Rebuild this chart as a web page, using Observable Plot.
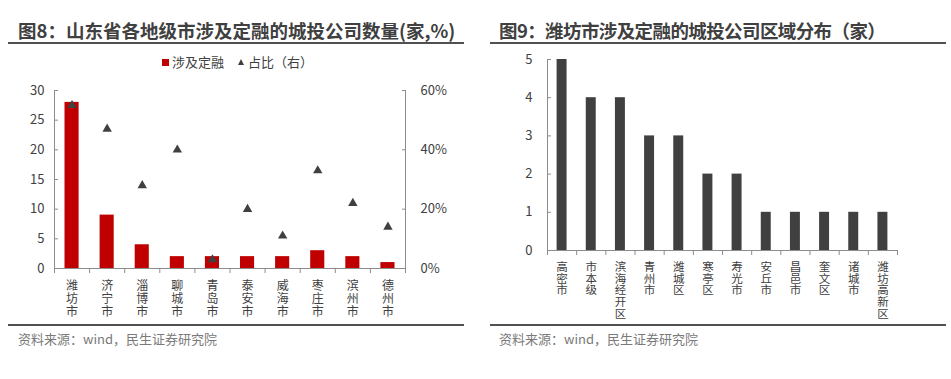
<!DOCTYPE html>
<html>
<head>
<meta charset="utf-8">
<script src="https://cdn.jsdelivr.net/npm/d3@7"></script>
<script src="https://cdn.jsdelivr.net/npm/@observablehq/plot@0.6"></script>
<style>
  html, body { margin: 0; padding: 0; background: #fff; }
  body { width: 951px; height: 379px; position: relative; overflow: hidden;
         font-family: "Noto Sans CJK SC", "Noto Sans", sans-serif; color: #404040; }
  .title { position: absolute; top: 21px; font-size: 18.5px; font-weight: bold; color: #404040; white-space: nowrap; line-height: 1; }
  .rule { position: absolute; height: 2px; background: #505050; }
  .source { position: absolute; top: 332px; font-size: 13px; color: #7a7a7a; white-space: nowrap; line-height: 1; }
  .legend { position: absolute; top: 55px; left: 162px; font-size: 13px; color: #404040; white-space: nowrap; line-height: 1; }
  .legend .sq { display: inline-block; width: 7px; height: 7px; background: #c00000; margin-right: 3px; vertical-align: 1px; }
  .legend .tri { display: inline-block; width: 0; height: 0; border-left: 3.5px solid transparent; border-right: 3.5px solid transparent; border-bottom: 6px solid #404040; margin: 0 4px 0 14px; vertical-align: 2px; }
  .chart { position: absolute; }
</style>
</head>
<body>
<div class="title" style="left:18px">图8：山东省各地级市涉及定融的城投公司数量(家,%)</div>
<div class="rule" style="left:8px; width:456px; top:42px"></div>
<div class="legend"><span class="sq"></span>涉及定融<span class="tri"></span>占比（右）</div>
<div class="chart" id="left" style="left:0; top:80px"></div>
<div class="rule" style="left:8px; width:456px; top:324px"></div>
<div class="source" style="left:18px">资料来源：wind，民生证券研究院</div>

<div class="title" style="left:499px; letter-spacing:-0.6px">图9：潍坊市涉及定融的城投公司区域分布（家）</div>
<div class="rule" style="left:490px; width:456px; top:42px"></div>
<div class="chart" id="right" style="left:480px; top:50px"></div>
<div class="rule" style="left:490px; width:456px; top:324px"></div>
<div class="source" style="left:499px">资料来源：wind，民生证券研究院</div>

<script>
// ---- Chart 8 data ----
const cities = ["潍坊市","济宁市","淄博市","聊城市","青岛市","泰安市","威海市","枣庄市","滨州市","德州市"];
const cityCounts = [28, 9, 4, 2, 2, 2, 2, 3, 2, 1];
const cityShares = [55, 47, 28, 40, 3, 20, 11, 33, 22, 14]; // %
const leftTicks = [0, 5, 10, 15, 20, 25, 30];
const rightTicks = [0, 20, 40, 60]; // %

// ---- Chart 9 data ----
const districts = ["高密市","市本级","滨海经开区","青州市","潍城区","寒亭区","寿光市","安丘市","昌邑市","奎文区","诸城市","潍坊高新区"];
const districtCounts = [5, 4, 4, 3, 3, 2, 2, 1, 1, 1, 1, 1];
const districtTicks = [0, 1, 2, 3, 4, 5];

const axisColor = "#8c8c8c";
const textColor = "#404040";
const vert = s => s.split("").join("\n");

// ---------- Left chart ----------
const leftData = cities.map((c, i) => ({i, city: c, count: cityCounts[i], share: cityShares[i]}));
const n1 = cities.length;
const left = Plot.plot({
  width: 470, height: 250,
  marginLeft: 54, marginRight: 65, marginTop: 10, marginBottom: 62,
  style: {fontFamily: '"Noto Sans CJK SC", sans-serif', fontSize: "13px", color: textColor, background: "transparent"},
  x: {type: "linear", domain: [0, n1], axis: null},
  y: {domain: [0, 30], axis: null},
  marks: [
    Plot.rectY(leftData, {x1: d => d.i, x2: d => d.i + 1, y: "count", fill: "#c00000", insetLeft: 10.5, insetRight: 10.5}),
    Plot.dot(leftData, {x: d => d.i + 0.5, y: d => d.share / 2, symbol: "triangle", r: 3.5, fill: "#404040"}),
    Plot.ruleX([0], {stroke: axisColor}),
    Plot.ruleX([n1], {stroke: axisColor}),
    Plot.ruleY([0], {stroke: axisColor}),
    Plot.axisY({anchor: "left", ticks: leftTicks, tickFormat: d3.format("d"), tickSize: -4, tickPadding: 14, stroke: axisColor, color: textColor, label: null}),
    Plot.axisY({anchor: "right", ticks: rightTicks.map(p => p / 2), tickFormat: v => (v * 2) + "%", tickSize: -4, tickPadding: 19, stroke: axisColor, color: textColor, label: null}),
    Plot.axisX({ticks: d3.range(0, n1 + 1), tickFormat: () => "", tickSize: 5, stroke: axisColor, label: null}),
    Plot.axisX({ticks: d3.range(0, n1).map(i => i + 0.5), tickFormat: v => vert(cities[Math.floor(v)]), tickSize: 0, tickPadding: 12, fontSize: 12, lineHeight: 1.1, color: textColor, label: null})
  ]
});
document.getElementById("left").appendChild(left);

// ---------- Right chart ----------
const rightData = districts.map((d, i) => ({i, name: d, count: districtCounts[i]}));
const n2 = districts.length;
const right = Plot.plot({
  width: 471, height: 280,
  marginLeft: 67, marginRight: 54, marginTop: 9, marginBottom: 80,
  style: {fontFamily: '"Noto Sans CJK SC", sans-serif', fontSize: "13px", color: textColor, background: "transparent"},
  x: {type: "linear", domain: [0, n2], axis: null},
  y: {domain: [0, 5], axis: null},
  marks: [
    Plot.rectY(rightData, {x1: d => d.i, x2: d => d.i + 1, y: "count", fill: "#404040", insetLeft: 9.6, insetRight: 9.6}),
    Plot.ruleX([0], {stroke: axisColor}),
    Plot.ruleY([0], {stroke: axisColor}),
    Plot.axisY({anchor: "left", ticks: districtTicks, tickFormat: d3.format("d"), tickSize: -4, tickPadding: 19, stroke: axisColor, color: textColor, label: null}),
    Plot.axisX({ticks: d3.range(0, n2 + 1), tickFormat: () => "", tickSize: 5, stroke: axisColor, label: null}),
    Plot.axisX({ticks: d3.range(0, n2).map(i => i + 0.5), tickFormat: v => vert(districts[Math.floor(v)]), tickSize: 0, tickPadding: 12, fontSize: 11.5, lineHeight: 1.02, color: textColor, label: null})
  ]
});
document.getElementById("right").appendChild(right);
</script>
</body>
</html>
